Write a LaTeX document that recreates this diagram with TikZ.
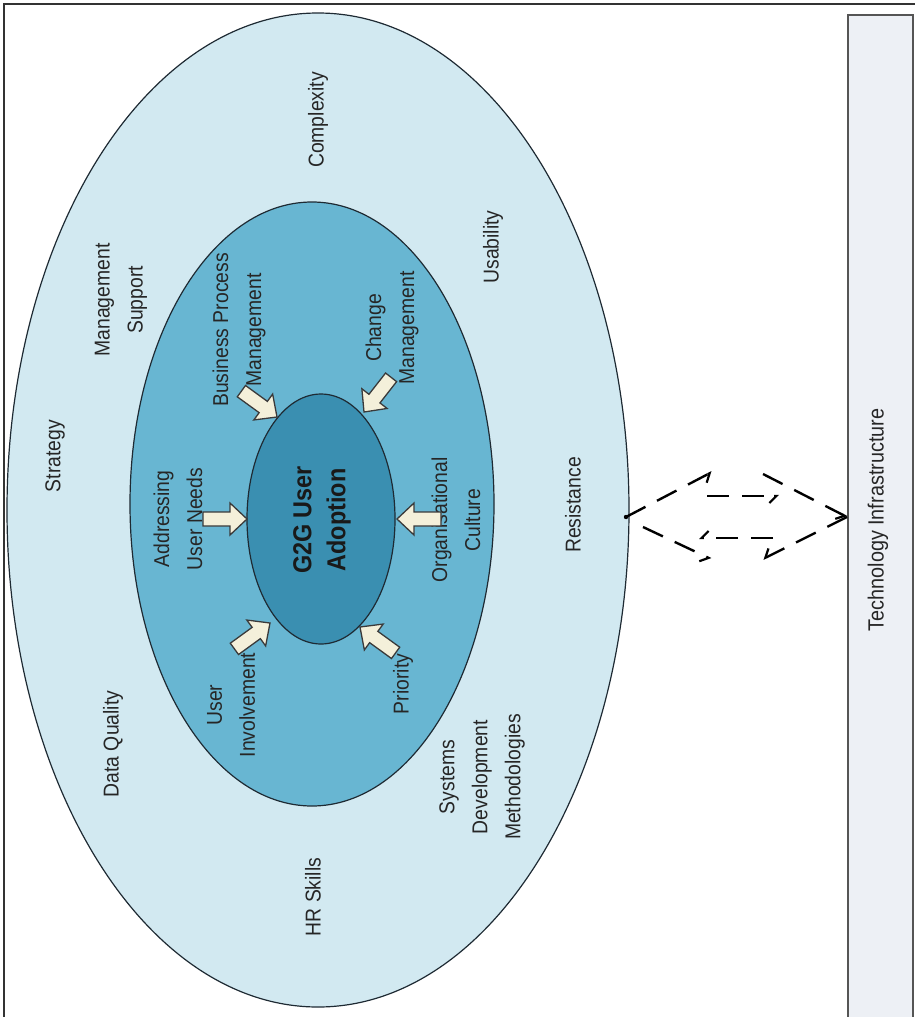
\documentclass[tikz,border=0pt]{standalone}
\usepackage{fontspec}
\setmainfont[FakeStretch=0.9]{Liberation Sans}
\usetikzlibrary{shapes.geometric,arrows.meta}
\definecolor{outerc}{HTML}{D2E9F1}
\definecolor{midc}{HTML}{68B6D2}
\definecolor{innerc}{HTML}{3A8FB1}
\definecolor{linec}{HTML}{1E2A33}
\definecolor{arrowfill}{HTML}{F4F0DA}
\definecolor{arrowline}{HTML}{3A3A3A}
\definecolor{techfill}{HTML}{EDF0F5}
\definecolor{techline}{HTML}{555555}
\definecolor{framec}{HTML}{333333}
\tikzset{
  ring/.style={ellipse, draw=linec, line width=1.2pt, inner sep=0},
  lbl/.style={rotate=90, align=center, inner sep=0, text=black!85,
              font=\fontsize{21.5}{33}\selectfont},
  barrow/.pic={\path[draw=arrowline, fill=arrowfill, line width=1.3pt, line join=miter]
     (0,0) -- (-17,-16) -- (-17,-7) -- (-44,-7) -- (-44,7) -- (-17,7) -- (-17,16) -- cycle;},
  dashline/.style={draw=black, line width=2.4pt, dash pattern=on 22pt off 13pt,
     -{Straight Barb[harpoon,swap,length=7pt,width=14pt,line width=2.2pt]}}
}
\begin{document}
\begin{tikzpicture}[x=1pt,y=-1pt]
\useasboundingbox (0,0) rectangle (914,1017);
% frame
\draw[line width=1.8pt, draw=framec] (4,1020) -- (4,4) -- (916,4);
% technology infrastructure bar
\node[draw=techline, fill=techfill, line width=2.2pt, minimum width=65pt,
      minimum height=1010pt, anchor=north west, inner sep=0] (tech) at (847,14) {};
\node[lbl, font=\fontsize{22}{26}\selectfont] (techlbl) at (878,520) {Technology Infrastructure};
% ellipses
\node[ring, fill=outerc, minimum width=622pt, minimum height=994pt] (outer) at (318,510) {};
\node[ring, fill=midc, minimum width=364pt, minimum height=604pt] (mid) at (312,504) {};
\node[ring, fill=innerc, minimum width=148pt, minimum height=250pt] (inner) at (321,519) {};
\node[lbl, font=\fontsize{26}{34}\selectfont\bfseries, text=black!90] (core) at (322,520) {G2G User\\Adoption};
% outer ring labels
\node[lbl] (complexity) at (318,120) {Complexity};
\node[lbl] (usability) at (493,247) {Usability};
\node[lbl] (mgmt) at (121,300) {Management\\Support};
\node[lbl] (strategy) at (55,456) {Strategy};
\node[lbl] (dataq) at (113,744) {Data Quality};
\node[lbl] (hrs) at (313,897) {HR Skills};
\node[lbl] (sdm) at (482,777) {Systems\\Development\\Methodologies};
\node[lbl] (resist) at (573,505) {Resistance};
% middle ring labels
\node[lbl] (bpm) at (239,330) {Business Process\\Management};
\node[lbl] (chm) at (392,328) {Change\\Management};
\node[lbl] (aun) at (178,519) {Addressing\\User Needs};
\node[lbl] (orgc) at (456,520) {Organisational\\Culture};
\node[lbl] (uinv) at (231,705) {User\\Involvement};
\node[lbl] (prio) at (403,684) {Priority};
% block arrows toward the core
\pic[rotate=0] (a-aun) at (247,519) {barrow};
\pic[rotate=180] (a-orgc) at (397,519) {barrow};
\pic[rotate=-36] (a-bpm) at (277,417) {barrow};
\pic[rotate=-128] (a-chm) at (364,412) {barrow};
\pic[rotate=36] (a-uinv) at (270,623) {barrow};
\pic[rotate=144] (a-prio) at (360,627) {barrow};
% dashed exchange between Resistance and Technology Infrastructure
\coordinate (L) at (626,517);
\coordinate (R) at (tech.west |- 0,517);
\coordinate (u1e) at (712,472);
\coordinate (u2s) at (707,496);
\coordinate (u2e) at (779,496);
\coordinate (u3s) at (763,474);
\coordinate (l1e) at (763,559);
\coordinate (l2s) at (773,538);
\coordinate (l2e) at (699,538);
\coordinate (l3s) at (643,527);
\coordinate (l3e) at (711,559);
\fill (L) circle (2.2pt);
\draw[dashline] (L) -- (u1e);
\draw[dashline] (u2s) -- (u2e);
\draw[dashline] (u3s) -- (R);
\draw[dashline] (R) -- (l1e);
\draw[dashline] (l2s) -- (l2e);
\draw[dashline] (l3s) -- (l3e);
\end{tikzpicture}
\end{document}
